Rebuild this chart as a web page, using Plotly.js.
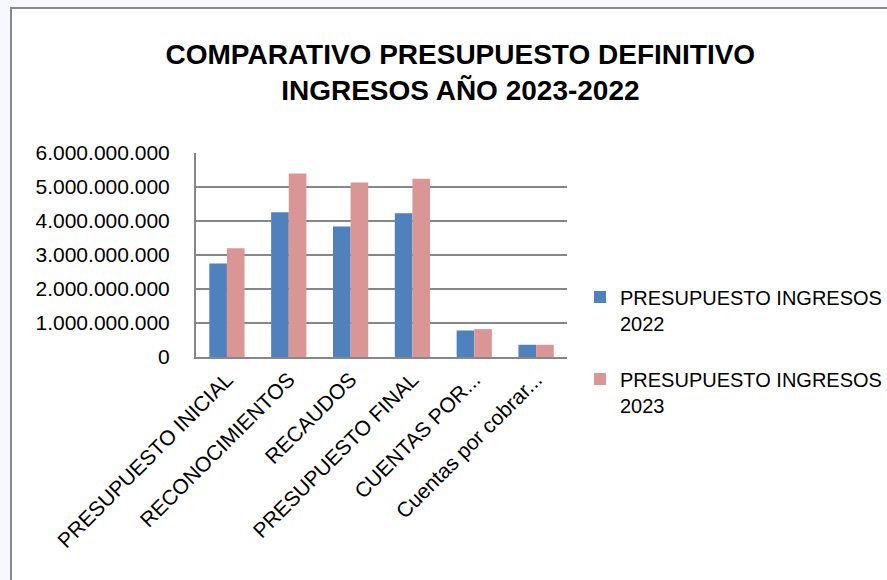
<!DOCTYPE html>
<html>
<head>
<meta charset="utf-8">
<script src="https://cdn.plot.ly/plotly-3.0.1.min.js"></script>
<style>
  html, body { margin: 0; padding: 0; background: #f5f9fd; }
  #wrap { position: relative; width: 887px; height: 580px; overflow: hidden; }
  #frame { position: absolute; left: 10px; top: 7px; width: 877px; height: 573px;
           background: #ffffff; border-left: 2px solid #888888; border-top: 2px solid #888888; box-sizing: border-box; }
  #chart { position: absolute; left: 0; top: 0; width: 887px; height: 580px; }
</style>
</head>
<body>
<div id="wrap">
  <div id="frame"></div>
  <div id="chart"></div>
</div>
<script>
const categories = ["PRESUPUESTO INICIAL", "RECONOCIMIENTOS", "RECAUDOS", "PRESUPUESTO FINAL", "CUENTAS POR...", "Cuentas por cobrar..."];
const ingresos2022 = [2750000000, 4260000000, 3840000000, 4230000000, 780000000, 360000000];
const ingresos2023 = [3200000000, 5400000000, 5130000000, 5240000000, 820000000, 360000000];
const seriesNames = ["PRESUPUESTO INGRESOS<br>2022", "PRESUPUESTO INGRESOS<br>2023"];
const yTicks = [0, 1000000000, 2000000000, 3000000000, 4000000000, 5000000000, 6000000000];

const FONT = "Liberation Sans, Arial, sans-serif";
const data = [
  { type: "bar", x: categories, y: ingresos2022, name: seriesNames[0], legendgroup: "g2022", marker: { color: "#4f81bd" } },
  { type: "bar", x: categories, y: ingresos2023, name: seriesNames[1], legendgroup: "g2023", marker: { color: "#d99694" } }
];
const layout = {
  width: 887, height: 580,
  paper_bgcolor: "rgba(0,0,0,0)", plot_bgcolor: "rgba(0,0,0,0)",
  separators: ",.",
  margin: { l: 196, r: 320, t: 153, b: 223, autoexpand: false },
  font: { family: FONT, size: 20, color: "#000000" },
  title: {
    text: "<b>COMPARATIVO PRESUPUESTO DEFINITIVO<br>INGRESOS AÑO 2023-2022</b>",
    font: { family: FONT, size: 28, color: "#000000" },
    xref: "container", x: 0.519, xanchor: "center",
    yref: "container", y: 0.89, yanchor: "top"
  },
  barmode: "group", bargap: 0.43, bargroupgap: 0,
  xaxis: {
    type: "category", tickangle: -45, showline: true, linecolor: "#878787", linewidth: 2,
    showgrid: false, ticks: "", tickfont: { family: FONT, size: 21, color: "#000" }
  },
  yaxis: {
    range: [0, 6000000000], tickvals: yTicks, tickformat: ",.0f",
    showline: true, linecolor: "#878787", linewidth: 2,
    showgrid: true, gridcolor: "#878787", gridwidth: 2, zeroline: false,
    ticks: "", ticklabelstandoff: 20, tickfont: { family: FONT, size: 21, color: "#000" }
  },
  legend: {
    x: 1.035, xanchor: "left", y: 0.39, yanchor: "top", valign: "top",
    font: { family: FONT, size: 20, color: "#000" }, tracegroupgap: 27,
    bgcolor: "rgba(0,0,0,0)"
  },
  showlegend: true
};
Plotly.newPlot("chart", data, layout, { displayModeBar: false, staticPlot: true });
</script>
</body>
</html>
